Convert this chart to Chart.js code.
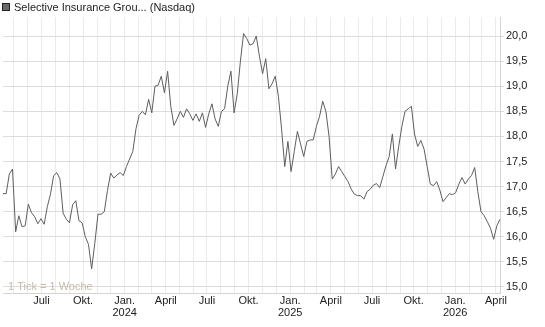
<!DOCTYPE html>
<html lang="de">
<head>
<meta charset="utf-8">
<title>Selective Insurance Group (Nasdaq)</title>
<script src="https://cdn.jsdelivr.net/npm/chart.js@4/dist/chart.umd.min.js"></script>
<style>
    body { margin: 0; background: #fff; }
    .chart-box { width: 545px; height: 327px; }
</style>
</head>
<body>
<div class="chart-box">
    <canvas class="price-chart" width="545" height="327"></canvas>
</div>
<script>
// Kurs pro Woche, erster Wert = 07.04.2023
const firstWeek = Date.UTC(2023, 3, 7)
const weekMs = 7 * 24 * 3600 * 1000

const prices = [
    16.86, 16.86, 17.25, 17.35, 16.10, 16.42, 16.20, 16.22, 16.65, 16.48,
    16.40, 16.26, 16.36, 16.25, 16.60, 16.85, 17.22, 17.28, 17.15, 16.47,
    16.35, 16.28, 16.64, 16.72, 16.32, 16.28, 16.00, 15.85, 15.36, 15.87,
    16.45, 16.45, 16.50, 16.92, 17.27, 17.17, 17.23, 17.28, 17.22, 17.40,
    17.55, 17.70, 18.15, 18.42, 18.50, 18.43, 18.74, 18.47, 19.00, 19.02,
    19.20, 18.87, 19.30, 18.60, 18.22, 18.35, 18.50, 18.38, 18.55, 18.45,
    18.32, 18.45, 18.30, 18.47, 18.18, 18.45, 18.65, 18.35, 18.20, 18.50,
    18.55, 19.00, 19.30, 18.47, 18.85, 19.50, 20.05, 19.95, 19.82, 19.85,
    20.00, 19.60, 19.25, 19.55, 18.95, 19.05, 19.20, 18.80, 18.15, 17.40,
    17.90, 17.30, 17.70, 18.10, 17.85, 17.60, 17.90, 17.93, 17.93, 18.20,
    18.40, 18.70, 18.50, 18.00, 17.15, 17.25, 17.40, 17.30, 17.20, 17.10,
    16.95, 16.85, 16.82, 16.82, 16.75, 16.90, 16.95, 17.03, 17.06, 16.98,
    17.20, 17.42, 17.60, 18.05, 17.35, 17.80, 18.20, 18.50, 18.55, 18.60,
    18.05, 17.80, 17.92, 17.75, 17.40, 17.05, 17.02, 17.10, 16.93, 16.70,
    16.78, 16.86, 16.84, 16.88, 17.05, 17.18, 17.05, 17.15, 17.22, 17.38,
    16.90, 16.50, 16.42, 16.30, 16.17, 15.95, 16.22, 16.35
]

const yTicks = [15, 15.5, 16, 16.5, 17, 17.5, 18, 18.5, 19, 19.5, 20]
const monthNames = { 0: 'Jan.', 3: 'April', 6: 'Juli', 9: 'Okt.' }

const seriesName = 'Selective Insurance Grou... (Nasdaq)'
const tickNote = '1 Tick = 1 Woche'

const points = prices.map((p, i) => ({ x: firstWeek + i * weekMs, y: p }))
const xMin = points[0].x
const xMax = points[points.length - 1].x

// Monatsanfaenge fuer das Gitter
function monthTicks(min, max) {
    const ticks = []
    const d = new Date(min)
    let y = d.getUTCFullYear()
    let m = d.getUTCMonth() + 1
    while (true) {
        const t = Date.UTC(y, m, 1)
        if (t > max) break
        ticks.push({ value: t })
        m++
        if (m > 11) { m = 0; y++ }
    }
    return ticks
}

const fontFamily = '"Liberation Sans", Arial, sans-serif'

const extras = {
    id: 'extras',
    beforeDatasetsDraw(chart) {
        const ctx = chart.ctx
        ctx.save()
        ctx.font = '11px ' + fontFamily
        ctx.fillStyle = '#c6bcaa'
        ctx.textBaseline = 'middle'
        ctx.fillText(tickNote, 8, 287)
        ctx.restore()
    },
    afterDraw(chart) {
        const ctx = chart.ctx
        ctx.save()
        ctx.fillStyle = '#6a6a6a'
        ctx.fillRect(2, 3, 8, 8)
        ctx.strokeStyle = '#222'
        ctx.lineWidth = 1
        ctx.strokeRect(2.5, 3.5, 7, 7)
        ctx.font = '11px ' + fontFamily
        ctx.fillStyle = '#222'
        ctx.textBaseline = 'middle'
        ctx.fillText(seriesName, 14, 7.5)
        ctx.restore()
    }
}

const ctx = document.querySelector('.price-chart').getContext('2d')

new Chart(ctx, {
    type: 'line',
    data: {
        datasets: [{
            label: seriesName,
            data: points,
            borderColor: '#5e5e5e',
            borderWidth: 1,
            pointRadius: 0,
            tension: 0,
            fill: false
        }]
    },
    options: {
        responsive: false,
        animation: false,
        layout: { padding: { top: 17, left: 3, right: 0, bottom: 0 } },
        plugins: {
            legend: { display: false },
            tooltip: { enabled: false }
        },
        scales: {
            x: {
                type: 'linear',
                min: xMin,
                max: xMax,
                afterBuildTicks: scale => { scale.ticks = monthTicks(xMin, xMax) },
                afterFit: scale => { scale.height = 34 },
                grid: { color: '#ebebeb', drawTicks: false },
                border: { color: '#d4d4d4' },
                ticks: {
                    autoSkip: false,
                    maxRotation: 0,
                    padding: 2,
                    color: '#222',
                    font: { size: 11, family: fontFamily, lineHeight: 1.1 },
                    callback: function (value) {
                        const d = new Date(value)
                        const m = d.getUTCMonth()
                        if (m === 0) return ['Jan.', String(d.getUTCFullYear())]
                        return monthNames[m] || ''
                    }
                }
            },
            y: {
                position: 'right',
                min: 14.88,
                max: 20.38,
                afterBuildTicks: scale => { scale.ticks = yTicks.map(v => ({ value: v })) },
                afterFit: scale => { scale.width = 45 },
                grid: { color: '#dcdcdc', tickLength: 4 },
                border: { color: '#d4d4d4' },
                ticks: {
                    padding: 2,
                    color: '#222',
                    font: { size: 11, family: fontFamily },
                    callback: value => value.toFixed(1).replace('.', ',')
                }
            }
        }
    },
    plugins: [extras]
})
</script>
</body>
</html>
